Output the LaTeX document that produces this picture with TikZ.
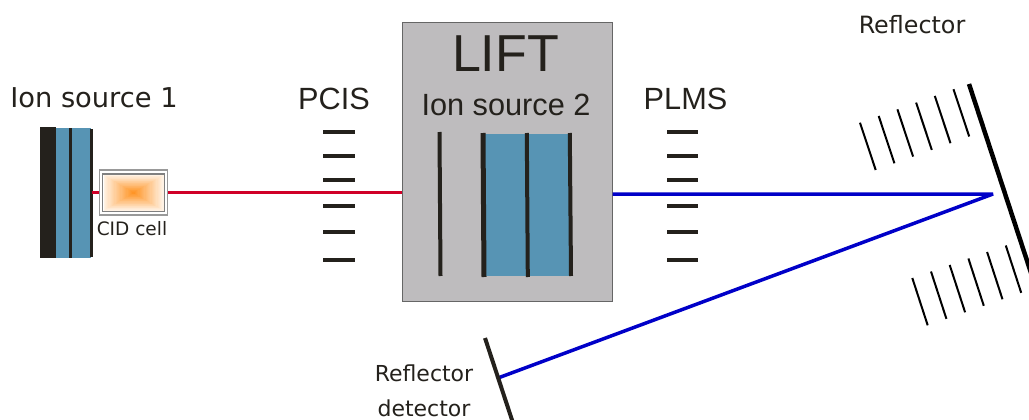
\documentclass[tikz,border=0pt]{standalone}
\usepackage{fontspec}
\setmainfont{Liberation Sans}
\newfontfamily\labelfont{DejaVu Sans}
\definecolor{lenscolor}{RGB}{87,148,180}
\definecolor{barcolor}{RGB}{36,33,28}
\definecolor{liftcolor}{RGB}{190,188,190}
\definecolor{redbeam}{RGB}{208,0,40}
\definecolor{bluebeam}{RGB}{0,0,200}
\definecolor{cellcolor}{RGB}{255,145,30}
\tikzset{
  bigtext/.style={text=barcolor, inner sep=0pt, font=\fontsize{30.7}{32}\selectfont},
  smalltext/.style={text=barcolor, inner sep=0pt, font=\labelfont\fontsize{22}{24}\selectfont},
  plate/.style={barcolor, line width=3.5pt},
  gridline/.style={black, line width=2pt},
  beam/.style={line width=3.5pt, line join=bevel}
}
\begin{document}
\begin{tikzpicture}[x=1pt, y=-1pt]
      \useasboundingbox (0, 0) rectangle (1029, 420);

      % LIFT
      \node[draw=black!60, fill=liftcolor, line width=1pt, minimum width=210pt, minimum height=278pt, inner sep=0pt] (lift) at (507, 162) {};
      \node[bigtext, font=\fontsize{52}{54}\selectfont] (lifttext) at (505.5, 54) {LIFT};
      \node[bigtext] (source2) at (506, 105) {Ion source 2};

      \fill[lenscolor] (484, 134) rectangle (570, 276);
      \draw[barcolor, line width=4pt] (439.5, 132) -- (440.5, 276);
      \draw[barcolor, line width=5pt] (483, 133) -- (484, 277);
      \draw[plate, line width=4pt] (526.8, 133) -- (527.8, 277);
      \draw[plate, line width=4pt] (569.8, 133) -- (571, 276);

      % Ion source 1
      \node[bigtext, font=\labelfont\fontsize{27.3}{29}\selectfont] (source1) at (94, 98) {Ion source 1};
      \fill[lenscolor] (55, 128) rectangle (91, 258);
      \fill[barcolor] (40, 127) rectangle (56, 258);
      \draw[plate] (70.5, 128) -- (70.5, 258);
      \draw[plate] (91.5, 129) -- (91.5, 257);

      % CID cell
      \node[draw=black!40, fill=white, line width=1.5pt, minimum width=68pt, minimum height=45pt, inner sep=0pt] (cid) at (133.5, 192.5) {};
      \draw[black!50, line width=1.5pt] (102.5, 174) rectangle (164.5, 211.5);
      \foreach \i in {0,1,...,25} {
        \pgfmathsetmacro{\mixval}{12+\i*3.5}
        \fill[cellcolor!\mixval!white] (103.5+\i*1.2, 175+\i*0.7) rectangle (163.5-\i*1.2, 210.5-\i*0.7);
      }
      \node[smalltext, font=\labelfont\fontsize{18.5}{20}\selectfont] (cidtext) at (132, 229) {CID cell};

      % Beams
      \coordinate (sourceout) at (92, 192.5);
      \coordinate (mirror) at (993, 194);
      \coordinate (detectorhit) at (498, 378);
      \draw[beam, redbeam] (sourceout) -- (cid.west);
      \draw[beam, redbeam] (cid.east) -- (lift.west |- cid.east);
      \draw[beam, bluebeam] (lift.east |- mirror) -- (mirror) -- (detectorhit);

      % PCIS, PLMS
      \node[bigtext] (pcis) at (334, 98.5) {PCIS};
      \node[bigtext] (plms) at (685.5, 98.5) {PLMS};
      \foreach \y in {132,156,180,206,232,260} {
        \draw[plate] (323, \y) -- (355, \y);
        \draw[plate] (667, \y) -- (698, \y);
      }

      % Reflector
      \node[smalltext, font=\labelfont\fontsize{23.8}{26}\selectfont] (reflector) at (912, 25) {Reflector};
      \coordinate (reflectortop) at (969, 84);
      \coordinate (reflectorbottom) at (1035, 285);
      \draw[black, line width=4.5pt] (reflectortop) -- (reflectorbottom);
      \foreach \i in {0,1,...,5} {
        \draw[gridline] (860+\i*18.7, 122.7-\i*6.7) -- (875.7+\i*18.7, 170-\i*6.7);
        \draw[gridline] (912.3+\i*18.7, 278-\i*6.5) -- (927.7+\i*18.7, 325.3-\i*6.5);
      }

      % Reflector detector
      \node[smalltext] (detector1) at (424, 373) {Reflector};
      \node[smalltext] (detector2) at (424, 408) {detector};
      \coordinate (detectortop) at (485, 338);
      \coordinate (detectorbottom) at (513, 423);
      \draw[barcolor, line width=4pt] (detectortop) -- (detectorbottom);
  \end{tikzpicture}
\end{document}
